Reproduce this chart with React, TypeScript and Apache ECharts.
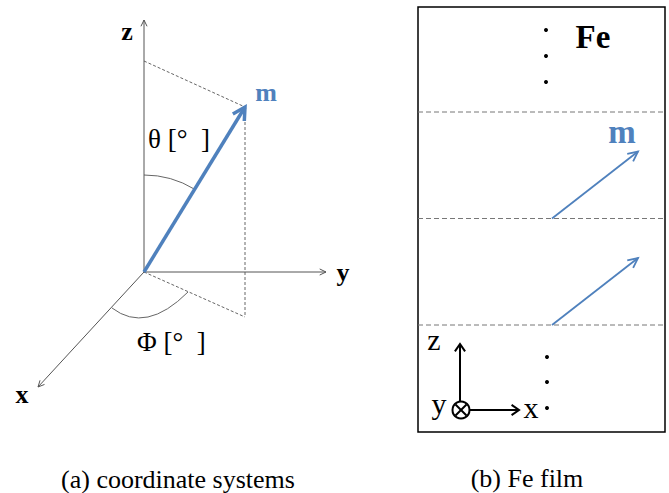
import React, { useEffect, useRef } from "react";
import * as echarts from "echarts";

// ---- content (texts) ----
const axisLabelsA = ["z", "y", "x"];
const vectorLabel = "m";
const angleLabels = ["θ [°\u00A0\u00A0]", "Φ [°\u00A0\u00A0]"];
const filmLabel = "Fe";
const axisLabelsB = ["z", "y", "x"];
const captions = ["(a) coordinate systems", "(b) Fe film"];
const layerCount = 3; // dashed layer boundaries
const momentCount = 2; // arrows drawn in the film

const BLUE = "#4f81bd";
const GRAY = "#555";
const SERIF = "Liberation Serif";

type P = [number, number];

function head(from: P, to: P, len: number, ang: number): P[] {
  const a = Math.atan2(to[1] - from[1], to[0] - from[0]);
  return [
    [to[0] - len * Math.cos(a - ang), to[1] - len * Math.sin(a - ang)],
    to,
    [to[0] - len * Math.cos(a + ang), to[1] - len * Math.sin(a + ang)],
  ];
}

function arrow(from: P, to: P, color: string, width: number, len: number, ang: number, z = 5): any[] {
  return [
    { type: "line", z, shape: { x1: from[0], y1: from[1], x2: to[0], y2: to[1] }, style: { stroke: color, lineWidth: width } },
    { type: "polyline", z, shape: { points: head(from, to, len, ang) }, style: { stroke: color, lineWidth: width, fill: "none" } },
  ];
}

function txt(text: string, x: number, y: number, size: number, bold: boolean, fill = "#000", align = "center"): any {
  return {
    type: "text", x, y, z: 10,
    style: { text, fontFamily: SERIF, fontSize: size, lineHeight: size, fontWeight: bold ? "bold" : "normal", fill, textAlign: align, textVerticalAlign: "middle" },
  };
}

function dashed(a: P, b: P, color = "#666", dash = [3, 2], w = 1): any {
  return { type: "line", z: 3, shape: { x1: a[0], y1: a[1], x2: b[0], y2: b[1] }, style: { stroke: color, lineWidth: w, lineDash: dash } };
}

function buildGraphic(): any[] {
  const g: any[] = [];
  // ---------- panel (a) ----------
  const O: P = [144, 272];
  const M: P = [245, 107];
  g.push(dashed([O[0], 61], M, "#666"));
  g.push(dashed(M, [M[0], 317], "#666"));
  g.push(dashed(O, [M[0], 317], "#666"));
  g.push(...arrow(O, [144, 20], GRAY, 1, 7, 0.45));
  g.push(...arrow(O, [326, 272], GRAY, 1, 7, 0.45));
  g.push(...arrow(O, [38, 387], GRAY, 1, 7, 0.45));
  const mAng = Math.atan2(M[1] - O[1], M[0] - O[0]);
  g.push({ type: "arc", z: 4, shape: { cx: O[0], cy: O[1], r: 97, startAngle: -Math.PI / 2, endAngle: mAng, clockwise: true }, style: { stroke: "#666", lineWidth: 1, fill: "none" } });
  g.push({ type: "bezierCurve", z: 4, shape: { x1: 112, y1: 308, cpx1: 146, cpy1: 334, x2: 188, y2: 292 }, style: { stroke: "#666", lineWidth: 1, fill: "none" } });
  g.push(...arrow(O, M, BLUE, 3.5, 14, 0.5, 6));
  g.push(txt(axisLabelsA[0], 127, 31, 26, true));
  g.push(txt(axisLabelsA[1], 343, 272, 26, true));
  g.push(txt(axisLabelsA[2], 22, 394, 26, true));
  g.push(txt(vectorLabel, 266, 92, 26, true, BLUE));
  g.push(txt(angleLabels[0], 148, 139, 27, false, "#000", "left"));
  g.push(txt(angleLabels[1], 137, 342, 27, false, "#000", "left"));

  // ---------- panel (b) ----------
  const L = 418, T = 7, R = 665, B = 432;
  g.push({ type: "rect", z: 2, shape: { x: L, y: T, width: R - L, height: B - T }, style: { stroke: "#000", lineWidth: 1.5, fill: "none" } });
  const top = 112, step = 106.5;
  for (let i = 0; i < layerCount; i++) {
    const y = top + i * step;
    g.push(dashed([L, y], [R, y], "#777", [5, 3], 1));
  }
  for (let i = 0; i < momentCount; i++) {
    const y = top + (i + 1) * step;
    g.push(...arrow([552, y], [638, y - 67], BLUE, 1.8, 11, 0.45, 6));
  }
  [30, 56, 82].forEach((y) => g.push({ type: "circle", z: 5, shape: { cx: 546, cy: y, r: 2 }, style: { fill: "#000" } }));
  [357, 382, 408].forEach((y) => g.push({ type: "circle", z: 5, shape: { cx: 547, cy: y, r: 2 }, style: { fill: "#000" } }));
  g.push(txt(filmLabel, 593, 37, 33, true));
  g.push(txt(vectorLabel, 622, 132, 33, true, BLUE));
  const C: P = [461, 410];
  g.push(...arrow([460, 401], [460, 344], "#000", 2, 9, 0.6));
  g.push(...arrow([470, C[1]], [519, C[1]], "#000", 2, 9, 0.6));
  g.push({ type: "circle", z: 5, shape: { cx: C[0], cy: C[1], r: 8.5 }, style: { stroke: "#000", lineWidth: 2, fill: "none" } });
  const d = 5.5;
  g.push({ type: "line", z: 5, shape: { x1: C[0] - d, y1: C[1] - d, x2: C[0] + d, y2: C[1] + d }, style: { stroke: "#000", lineWidth: 2 } });
  g.push({ type: "line", z: 5, shape: { x1: C[0] - d, y1: C[1] + d, x2: C[0] + d, y2: C[1] - d }, style: { stroke: "#000", lineWidth: 2 } });
  g.push(txt(axisLabelsB[0], 434, 339, 30, false));
  g.push(txt(axisLabelsB[1], 439, 403, 30, false));
  g.push(txt(axisLabelsB[2], 531, 407, 30, false));

  // ---------- captions ----------
  g.push(txt(captions[0], 178, 479, 26, false));
  g.push(txt(captions[1], 527, 478, 26, false));
  return g;
}

export default function App() {
  const ref = useRef<HTMLDivElement>(null);
  useEffect(() => {
    document.body.style.margin = "0";
    const chart = echarts.init(ref.current!, undefined, { renderer: "svg" });
    chart.setOption({ animation: false, backgroundColor: "#fff", graphic: buildGraphic() });
    return () => chart.dispose();
  }, []);
  return <div ref={ref} style={{ width: 669, height: 493, position: "absolute", left: 0, top: 0, background: "#fff" }} />;
}
